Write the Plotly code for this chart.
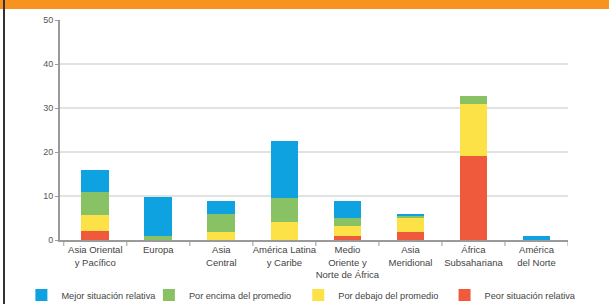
import plotly.graph_objects as go

categories = ["Asia Oriental<br>y Pacífico", "Europa", "Asia<br>Central", "América Latina<br>y Caribe",
              "Medio<br>Oriente y<br>Norte de África", "Asia<br>Meridional", "África<br>Subsahariana",
              "América<br>del Norte"]
peor = [2.1, 0.0, 0.0, 0.0, 0.8, 1.8, 19.0, 0.0]
debajo = [3.6, 0.0, 1.9, 4.1, 2.4, 3.4, 11.8, 0.0]
encima = [5.3, 0.8, 4.0, 5.4, 1.7, 0.2, 1.9, 0.0]
mejor = [4.8, 9.0, 3.0, 13.0, 4.0, 0.6, 0.0, 0.9]

series = [
    ("Peor situación relativa", peor, "#ef5a3c", "legend4"),
    ("Por debajo del promedio", debajo, "#fde247", "legend3"),
    ("Por encima del promedio", encima, "#88c264", "legend2"),
    ("Mejor situación relativa", mejor, "#0ea2e0", "legend"),
]

fig = go.Figure()
for name, vals, col, lg in series:
    fig.add_trace(go.Bar(x=list(range(len(categories))), y=vals, name=name, legend=lg,
                         marker=dict(color=col, line=dict(width=0)), width=0.44))

FONT = "Liberation Sans, Arial, sans-serif"
LEG_Y = -0.25


def leg(x):
    return dict(orientation="h", x=x, xanchor="left", y=LEG_Y, yanchor="middle",
                font=dict(size=9.2, color="#444"), itemwidth=30, bgcolor="rgba(0,0,0,0)")


fig.update_layout(
    barmode="stack",
    width=609, height=304,
    margin=dict(l=60, r=41, t=20, b=64, autoexpand=False),
    paper_bgcolor="white", plot_bgcolor="white",
    font=dict(family=FONT, size=10, color="#444"),
    showlegend=True,
    legend=leg(-0.076), legend2=leg(0.175), legend3=leg(0.469), legend4=leg(0.757),
    xaxis=dict(tickmode="array", tickvals=list(range(len(categories))), ticktext=categories,
               range=[-0.56, 7.5], showgrid=False, showline=True, linecolor="#9a9a9a",
               linewidth=2, ticks="", tickangle=0, automargin=False,
               tickfont=dict(size=9.5, color="#444"), zeroline=False),
    yaxis=dict(range=[0, 50], tickvals=[0, 10, 20, 30, 40, 50], showgrid=True,
               gridcolor="#e2e2e2", gridwidth=1.5, showline=True, linecolor="#9a9a9a",
               linewidth=2, ticks="outside", ticklen=3, tickcolor="#9a9a9a", automargin=False,
               tickfont=dict(size=9, color="#555"), zeroline=False),
    bargap=0.5,
    shapes=[
        dict(type="rect", xref="paper", yref="paper", x0=-0.2, x1=1.2, y0=1.0 + 11/220, y1=1.2,
             fillcolor="#f7931e", line=dict(width=0), layer="above"),
        dict(type="line", xref="paper", yref="paper", x0=-56/508, x1=-56/508, y0=-0.4, y1=1.2,
             line=dict(color="#333", width=2)),
    ]
    + [dict(type="line", xref="x", yref="paper", x0=i + 0.5, x1=i + 0.5, y0=0, y1=-6/220,
            line=dict(color="#9a9a9a", width=1)) for i in range(-1, 8)],
)

fig.write_html("out.html", config={"displayModeBar": False},
               post_script="document.body.style.margin='0';")
